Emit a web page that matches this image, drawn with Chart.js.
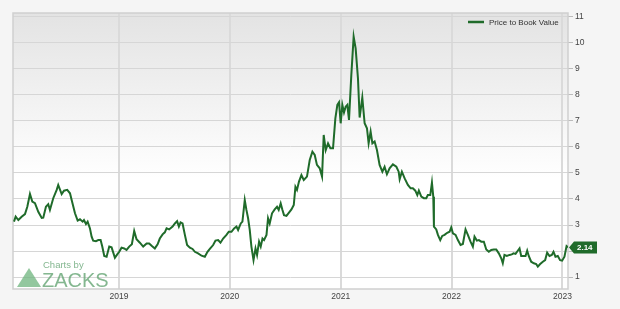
<!DOCTYPE html>
<html>
<head>
<meta charset="utf-8">
<script src="https://cdn.jsdelivr.net/npm/chart.js@4.4.1/dist/chart.umd.min.js"></script>
<style>
    html, body { margin: 0; padding: 0; background: #f5f5f5; }
    #wrap { width: 620px; height: 309px; position: relative; }
</style>
</head>
<body>
<div id="wrap"><canvas id="pbChart" width="620" height="309"></canvas></div>
<script>
// ---- data (decimal year, price to book) ----
var years = [
    2018.054, 2018.069, 2018.093, 2018.123, 2018.153, 2018.174, 2018.198, 2018.219, 2018.243, 2018.273,
    2018.304, 2018.318, 2018.342, 2018.363, 2018.378, 2018.408, 2018.439, 2018.453, 2018.484, 2018.505,
    2018.534, 2018.559, 2018.574, 2018.604, 2018.628, 2018.649, 2018.673, 2018.685, 2018.703, 2018.718,
    2018.739, 2018.754, 2018.768, 2018.793, 2018.814, 2018.835, 2018.850, 2018.868, 2018.889, 2018.913,
    2018.934, 2018.964, 2018.985, 2019.003, 2019.024, 2019.048, 2019.069, 2019.093, 2019.117, 2019.138,
    2019.159, 2019.189, 2019.219, 2019.250, 2019.273, 2019.295, 2019.324, 2019.349, 2019.369, 2019.394,
    2019.414, 2019.430, 2019.453, 2019.484, 2019.505, 2019.525, 2019.541, 2019.556, 2019.574, 2019.595,
    2019.615, 2019.640, 2019.664, 2019.685, 2019.714, 2019.745, 2019.775, 2019.799, 2019.820, 2019.850,
    2019.871, 2019.895, 2019.916, 2019.940, 2019.970, 2019.991, 2020.015, 2020.039, 2020.060, 2020.075,
    2020.099, 2020.114, 2020.135, 2020.150, 2020.165, 2020.180, 2020.195, 2020.214, 2020.232, 2020.246,
    2020.264, 2020.279, 2020.295, 2020.309, 2020.331, 2020.345, 2020.360, 2020.381, 2020.405, 2020.426,
    2020.441, 2020.459, 2020.475, 2020.489, 2020.511, 2020.532, 2020.556, 2020.577, 2020.592, 2020.606,
    2020.624, 2020.646, 2020.667, 2020.696, 2020.721, 2020.745, 2020.766, 2020.786, 2020.811, 2020.832,
    2020.847, 2020.865, 2020.886, 2020.907, 2020.931, 2020.952, 2020.970, 2020.985, 2021.000, 2021.015,
    2021.030, 2021.045, 2021.060, 2021.075, 2021.096, 2021.117, 2021.135, 2021.156, 2021.171, 2021.195,
    2021.216, 2021.237, 2021.252, 2021.270, 2021.286, 2021.306, 2021.327, 2021.351, 2021.376, 2021.396,
    2021.417, 2021.441, 2021.471, 2021.502, 2021.523, 2021.532, 2021.552, 2021.577, 2021.606, 2021.631,
    2021.651, 2021.673, 2021.691, 2021.705, 2021.727, 2021.750, 2021.772, 2021.786, 2021.808, 2021.823,
    2021.835, 2021.841, 2021.862, 2021.877, 2021.898, 2021.916, 2021.937, 2021.961, 2021.982, 2021.997,
    2022.012, 2022.036, 2022.057, 2022.081, 2022.102, 2022.126, 2022.147, 2022.171, 2022.192, 2022.207,
    2022.228, 2022.246, 2022.268, 2022.291, 2022.313, 2022.336, 2022.358, 2022.381, 2022.403, 2022.426,
    2022.448, 2022.462, 2022.477, 2022.498, 2022.523, 2022.543, 2022.559, 2022.577, 2022.597, 2022.613,
    2022.628, 2022.649, 2022.667, 2022.682, 2022.696, 2022.718, 2022.742, 2022.763, 2022.778, 2022.799,
    2022.823, 2022.844, 2022.862, 2022.883, 2022.904, 2022.919, 2022.937, 2022.958, 2022.979, 2022.997,
    2023.018, 2023.037, 2023.050
];
var pbv = [
    3.13, 3.32, 3.19, 3.32, 3.42, 3.70, 4.19, 3.90, 3.84, 3.51,
    3.27, 3.28, 3.70, 3.80, 3.58, 4.03, 4.35, 4.54, 4.19, 4.32,
    4.35, 4.22, 3.96, 3.45, 3.17, 3.22, 3.13, 3.19, 3.04, 3.13,
    2.87, 2.55, 2.40, 2.38, 2.42, 2.42, 2.17, 1.81, 1.78, 2.17,
    2.14, 1.74, 1.87, 1.97, 2.13, 2.10, 2.04, 2.17, 2.26, 2.77,
    2.45, 2.32, 2.17, 2.29, 2.29, 2.20, 2.10, 2.26, 2.48, 2.64,
    2.72, 2.87, 2.83, 2.94, 3.06, 3.15, 2.94, 3.10, 3.06, 2.62,
    2.23, 2.13, 2.08, 1.97, 1.91, 1.82, 1.78, 1.97, 2.08, 2.23,
    2.40, 2.42, 2.32, 2.48, 2.62, 2.74, 2.74, 2.87, 2.94, 2.81,
    3.06, 3.13, 3.96, 3.58, 3.26, 2.81, 2.17, 1.65, 2.10, 1.85,
    2.36, 2.17, 2.48, 2.42, 2.62, 3.26, 3.06, 3.45, 3.60, 3.70,
    3.58, 3.83, 3.58, 3.38, 3.35, 3.47, 3.60, 3.77, 4.47, 4.35,
    4.67, 4.92, 4.73, 4.86, 5.50, 5.82, 5.69, 5.31, 5.18, 4.86,
    6.46, 5.88, 6.14, 5.95, 5.95, 7.10, 7.62, 7.72, 6.91, 7.62,
    7.33, 7.55, 7.62, 7.04, 8.77, 10.24, 9.79, 8.63, 7.13, 7.90,
    6.91, 6.72, 6.14, 6.59, 6.14, 6.21, 5.88, 5.31, 5.05, 5.24,
    4.95, 5.18, 5.33, 5.24, 5.05, 4.76, 5.05, 4.79, 4.54, 4.41,
    4.41, 4.32, 4.15, 4.32, 4.09, 4.03, 4.03, 4.15, 4.15, 4.63,
    4.09, 2.94, 2.83, 2.62, 2.42, 2.58, 2.62, 2.70, 2.74, 2.91,
    2.68, 2.62, 2.42, 2.23, 2.27, 2.83, 2.62, 2.36, 2.17, 2.55,
    2.40, 2.42, 2.36, 2.36, 2.06, 1.97, 2.04, 2.06, 2.06, 1.91,
    1.72, 1.53, 1.85, 1.81, 1.85, 1.87, 1.91, 1.89, 2.01, 2.10,
    1.81, 1.81, 1.81, 2.01, 1.81, 1.59, 1.53, 1.50, 1.40, 1.50,
    1.59, 1.65, 1.94, 1.81, 1.85, 1.97, 1.78, 1.81, 1.65, 1.63,
    1.78, 2.19, 2.14
];
var yearTicks = [2019, 2020, 2021, 2022, 2023];
var valueTicks = [1, 2, 3, 4, 5, 6, 7, 8, 9, 10, 11];
var seriesName = 'Price to Book Value';

var points = years.map(function(y, i) { return { x: y, y: pbv[i] }; });
var green = '#1f6b2a';

// background gradient, border, legend, last value flag and logo
var decorPlugin = {
    id: 'decor',
    beforeDraw: function(chart) {
        var ctx = chart.ctx, a = chart.chartArea;
        ctx.save();
        ctx.fillStyle = '#f5f5f5';
        ctx.fillRect(0, 0, chart.width, chart.height);
        var g = ctx.createLinearGradient(0, a.top, 0, a.bottom);
        g.addColorStop(0, '#e3e3e3');
        g.addColorStop(0.6, '#ffffff');
        g.addColorStop(1, '#ffffff');
        ctx.fillStyle = g;
        ctx.fillRect(a.left, a.top, a.right - a.left, a.bottom - a.top);
        ctx.restore();
    },
    beforeDatasetsDraw: function(chart) {
        var ctx = chart.ctx, a = chart.chartArea;
        ctx.save();
        ctx.strokeStyle = '#cfcfcf';
        ctx.lineWidth = 1.5;
        ctx.strokeRect(a.left, a.top, a.right - a.left, a.bottom - a.top);
        // Zacks logo
        ctx.fillStyle = 'rgba(110, 180, 125, 0.75)';
        ctx.beginPath();
        ctx.moveTo(29, 268);
        ctx.lineTo(41, 287);
        ctx.lineTo(17, 287);
        ctx.closePath();
        ctx.fill();
        ctx.fillStyle = 'rgba(110, 170, 125, 0.85)';
        ctx.font = '9.5px "Liberation Sans", Arial, sans-serif';
        ctx.textBaseline = 'alphabetic';
        ctx.fillText('Charts by', 43, 268);
        ctx.font = '20px "Liberation Sans", Arial, sans-serif';
        ctx.fillText('ZACKS', 42, 287);
        ctx.restore();
    },
    afterDraw: function(chart) {
        var ctx = chart.ctx, a = chart.chartArea;
        ctx.save();
        // legend
        ctx.strokeStyle = green;
        ctx.lineWidth = 2.5;
        ctx.beginPath();
        ctx.moveTo(468, 22);
        ctx.lineTo(484, 22);
        ctx.stroke();
        ctx.fillStyle = '#333333';
        ctx.font = '8px "Liberation Sans", Arial, sans-serif';
        ctx.textBaseline = 'middle';
        ctx.fillText(seriesName, 489, 22.5);
        // last value flag
        var last = pbv[pbv.length - 1];
        var y = chart.scales.y.getPixelForValue(last);
        var x = a.right + 1;
        ctx.fillStyle = green;
        ctx.beginPath();
        ctx.moveTo(x, y);
        ctx.lineTo(x + 5, y - 6);
        ctx.lineTo(x + 28, y - 6);
        ctx.lineTo(x + 28, y + 6);
        ctx.lineTo(x + 5, y + 6);
        ctx.closePath();
        ctx.fill();
        ctx.fillStyle = '#ffffff';
        ctx.font = 'bold 8px "Liberation Sans", Arial, sans-serif';
        ctx.fillText(last.toFixed(2), x + 8, y + 0.5);
        ctx.restore();
    }
};

var ctx = document.getElementById('pbChart').getContext('2d');
var chart = new Chart(ctx, {
    type: 'line',
    data: {
        datasets: [{
            label: seriesName,
            data: points,
            borderColor: green,
            backgroundColor: green,
            borderWidth: 2,
            pointRadius: 0,
            tension: 0,
            fill: false
        }]
    },
    options: {
        responsive: false,
        animation: false,
        layout: { padding: { left: 13, top: 13, right: 0, bottom: 0 } },
        plugins: {
            legend: { display: false },
            tooltip: { enabled: false }
        },
        scales: {
            x: {
                type: 'linear',
                min: 2018.045,
                max: 2023.05,
                afterBuildTicks: function(scale) {
                    scale.ticks = yearTicks.map(function(v) { return { value: v }; });
                },
                afterFit: function(scale) { scale.height = 20; },
                grid: { color: '#dadada', lineWidth: 2, drawTicks: false },
                border: { display: false },
                ticks: {
                    padding: 3,
                    color: '#444444',
                    font: { family: '"Liberation Sans", Arial, sans-serif', size: 8.5 },
                    maxRotation: 0,
                    callback: function(v) { return String(v); }
                }
            },
            y: {
                position: 'right',
                min: 0.54,
                max: 11.15,
                afterBuildTicks: function(scale) {
                    scale.ticks = valueTicks.map(function(v) { return { value: v }; });
                },
                afterFit: function(scale) { scale.width = 52; },
                grid: { color: '#d6d6d6', lineWidth: 1, tickLength: 5, tickColor: '#bbbbbb' },
                border: { display: false },
                ticks: {
                    padding: 2,
                    color: '#444444',
                    font: { family: '"Liberation Sans", Arial, sans-serif', size: 8.5 },
                    callback: function(v) { return String(v); }
                }
            }
        }
    },
    plugins: [decorPlugin]
});
</script>
</body>
</html>
